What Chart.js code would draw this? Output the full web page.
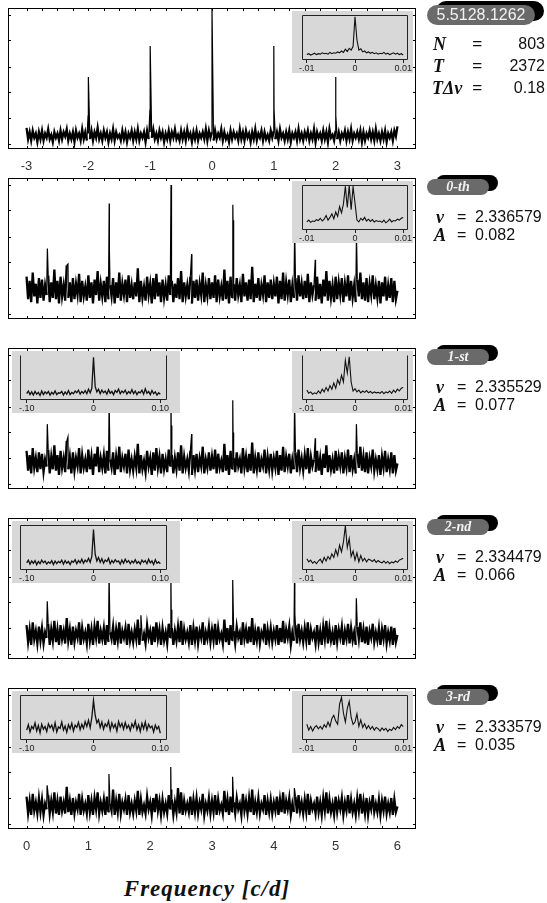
<!DOCTYPE html>
<html><head><meta charset="utf-8">
<script src="https://cdn.jsdelivr.net/npm/chart.js@4.4.0/dist/chart.umd.min.js"></script>
<style>
body{margin:0;background:#fff;width:547px;height:903px;position:relative;overflow:hidden;font-family:"Liberation Sans",Arial,sans-serif;color:#111;}
canvas{position:absolute;}
.t{position:absolute;white-space:nowrap;}
.sym{font-family:"Liberation Serif","DejaVu Serif",serif;font-weight:bold;font-style:italic;}
.pill{position:absolute;}
</style></head><body>
<script>
// ---------- tick labels ----------
const tickLabelsTop = [-3,-2,-1,0,1,2,3];
const tickLabelsBottom = [0,1,2,3,4,5,6];
const minorTicksTop = [-3,-2.75,-2.5,-2.25,-2,-1.75,-1.5,-1.25,-1,-0.75,-0.5,-0.25,0,0.25,0.5,0.75,1,1.25,1.5,1.75,2,2.25,2.5,2.75,3];
const minorTicksBottom = [0,0.25,0.5,0.75,1,1.25,1.5,1.75,2,2.25,2.5,2.75,3,3.25,3.5,3.75,4,4.25,4.5,4.75,5,5.25,5.5,5.75,6];
const yTickVals = [3.8,22,40.2,58.3,77,95];
const narrowTicks = [-0.01,0,0.01];
const narrowTickText = ['-.01','0','0.01'];
const wideTicks = [-0.1,0,0.1];
const wideTickText = ['-.10','0','0.10'];

// ---------- texts ----------
const starName = '5.5128.1262';
const nPoints = '803';
const tSpan = '2372';
const tDeltaNu = '0.18';
const panelNames = ['0-th','1-st','2-nd','3-rd'];
const nuValues = ['2.336579','2.335529','2.334479','2.333579'];
const ampValues = ['0.082','0.077','0.066','0.035'];

// ---------- spectral window (-3..3, step 0.025) ----------
const windowNoise = [
15,7,12,6,13,8,11,5,12,7, 13,6,11,8,14,7,10,5,12,8, 11,6,13,7,12,9,14,6,11,7, 12,5,13,8,11,6,14,7,12,6,
11,7,13,6,12,8,15,7,11,6, 13,8,12,5,11,7,14,6,12,8, 10,6,13,7,12,5,11,8,13,6, 12,7,14,6,11,8,12,5,13,7,
12,8,14,7,11,6,13,8,12,5, 11,7,13,6,12,8,14,7,10,6, 13,7,12,6,14,8,11,5,12,7, 13,6,11,8,12,7,14,6,13,8,
12,6,13,7,11,8,14,6,12,7, 10,5,13,7,12,8,11,6,14,7, 12,6,13,8,11,5,12,7,14,6, 11,8,13,6,12,7,10,6,13,8,
13,7,12,6,14,8,11,6,12,7, 13,5,11,8,12,6,14,7,11,6, 12,8,13,6,11,7,14,5,12,8, 11,6,13,7,12,5,14,8,10,6,
13,7,12,6,11,8,13,6,12,7, 14,6,11,8,12,7,13,5,12,6, 11,8,13,7,12,6,14,7,11,6, 12,7,13,5,11,8,12,6,13,9,
16];
const windowPeaks = [[-2.004,24],[-2,51],[-1.004,28],[-1,73],[0,100],[1,73],[1.004,28],[2,51],[2.004,24]];

// ---------- 0-th (0..6, step 0.025) ----------
const noise0th = [
30,14,27,12,33,16,25,11,29,15, 28,13,24,17,31,12,26,15,35,14, 27,11,30,16,24,13,38,15,26,12, 29,14,25,17,32,12,27,16,23,13,
31,15,26,11,28,17,34,13,25,16, 27,12,30,14,24,16,29,11,26,15, 33,13,25,17,28,12,31,15,24,14, 26,16,36,12,27,15,23,13,30,17,
25,11,29,14,32,16,26,12,28,15, 24,13,31,17,27,12,25,15,29,14, 34,12,26,16,24,14,30,11,27,15, 28,13,25,17,33,12,24,16,29,14,
26,15,31,12,28,16,23,13,35,14, 27,11,30,15,25,13,29,17,24,12, 32,16,26,13,28,14,37,12,25,15, 29,13,24,17,31,12,26,15,28,14,
25,16,30,11,27,14,33,13,26,17, 28,12,24,15,29,13,31,16,25,14, 27,15,32,12,26,17,24,13,30,14, 25,11,28,16,34,13,27,15,24,12,
30,14,26,17,29,12,25,16,31,13, 27,15,24,12,28,16,33,14,26,13, 29,12,25,17,31,14,24,15,27,11, 26,16,30,13,24,15,29,12,27,14,
20];
const peaks0th = [[0.337,50],[0.67,39],[1.337,82],[1.34,50],[2.337,95],[2.34,68],[2.67,46],[3.337,81],[3.34,70],[4.337,65],[4.67,42],[5.337,60]];

// ---------- 1-st ----------
const noise1st = [
27,13,24,11,29,15,22,12,26,14, 25,12,21,16,28,11,23,14,31,13, 24,10,27,15,22,12,34,14,23,11, 26,13,22,16,29,11,24,15,21,12,
28,14,23,10,25,16,30,12,22,15, 24,11,27,13,21,15,26,10,23,14, 30,12,22,16,25,11,28,14,21,13, 23,15,32,11,24,14,20,12,27,16,
22,10,26,13,29,15,23,11,25,14, 21,12,28,16,24,11,22,14,26,13, 31,11,23,15,21,13,27,10,24,14, 25,12,22,16,30,11,21,15,26,13,
23,14,28,11,25,15,20,12,32,13, 24,10,27,14,22,12,26,16,21,11, 29,15,23,12,25,13,33,11,22,14, 26,12,21,16,28,11,23,14,25,13,
22,15,27,10,24,13,30,12,23,16, 25,11,21,14,26,12,28,15,22,13, 24,14,29,11,23,16,21,12,27,13, 22,10,25,15,31,12,24,14,21,11,
27,13,23,16,26,11,22,15,28,12, 24,14,21,11,25,15,30,13,23,12, 26,11,22,16,28,13,21,14,24,10, 23,15,27,12,21,14,26,11,24,13,
18];
const peaks1st = [[0.336,46],[0.67,37],[1.336,62],[2.336,75],[2.34,45],[2.67,39],[3.336,63],[3.34,40],[4.336,62],[4.67,36],[5.336,46]];

// ---------- 2-nd ----------
const noise2nd = [
24,12,21,10,26,14,20,11,23,13, 22,11,19,15,25,10,21,13,27,12, 21,10,24,14,20,11,29,13,21,10, 23,12,20,15,26,10,22,14,19,11,
25,13,21,10,23,15,27,11,20,14, 22,10,24,12,19,14,23,10,21,13, 26,11,20,15,22,10,25,13,19,12, 21,14,28,10,22,13,18,11,24,15,
20,10,23,12,26,14,21,10,22,13, 19,11,25,15,22,10,20,13,23,12, 27,10,21,14,19,12,24,10,22,13, 23,11,20,15,26,10,19,14,23,12,
21,13,25,10,22,14,18,11,28,12, 22,10,24,13,20,11,23,15,19,10, 26,14,21,11,23,12,29,10,20,13, 23,11,19,15,25,10,21,13,22,12,
20,14,24,10,22,12,27,11,21,15, 23,10,19,13,24,11,25,14,20,12, 22,13,26,10,21,15,19,11,24,12, 20,10,23,14,27,11,22,13,19,10,
24,12,21,15,23,10,20,14,25,11, 22,13,19,10,23,14,26,12,21,11, 23,10,20,15,25,12,19,13,22,10, 21,14,24,11,19,13,23,10,22,12,
17];
const peaks2nd = [[0.335,41],[1.335,60],[1.85,31],[2.335,62],[2.34,35],[3.335,56],[4.335,60],[4.34,32],[5.335,43]];

// ---------- 3-rd ----------
const noise3rd = [
23,11,20,10,25,13,19,11,22,12, 21,10,18,14,24,11,20,12,26,11, 20,10,23,13,19,11,30,12,20,10, 22,11,19,14,25,10,21,13,18,11,
24,12,20,10,22,14,26,11,19,13, 21,10,23,12,18,13,28,10,20,12, 25,11,19,14,21,10,24,12,18,11, 20,13,27,10,21,12,17,11,23,14,
19,10,22,12,25,13,20,10,21,12, 18,11,24,14,21,10,19,12,29,11, 26,10,20,13,18,12,23,10,21,12, 22,11,19,14,25,10,18,13,22,11,
20,12,24,10,21,13,17,11,27,12, 21,10,23,12,19,11,22,14,18,10, 25,13,20,11,22,12,28,10,19,12, 22,11,18,14,24,10,20,12,21,11,
19,13,23,10,21,12,26,11,20,14, 22,10,18,12,23,11,24,13,19,11, 21,12,25,10,20,14,18,11,23,12, 19,10,22,13,26,11,21,12,18,10,
23,12,20,14,22,10,19,13,24,11, 21,12,18,10,22,13,25,11,20,11, 22,10,19,14,24,12,18,12,21,10, 20,13,23,11,18,12,22,10,21,12,
16];
const peaks3rd = [[0.333,31],[1.333,39],[2.333,44],[2.337,28],[3.333,37],[4.333,29]];

// ---------- narrow insets (-0.01..0.01, step 0.0004) ----------
const insetWindow = [12,14,11,13,15,12,14,13,16,14, 15,13,17,14,16,15,18,16,20,17, 24,19,26,22,30,96,45,22,25,18, 20,16,18,15,17,14,16,13,15,14, 17,13,15,12,14,16,13,15,12,14, 11];
const inset0th = [18,22,17,20,19,23,21,26,20,24, 32,22,28,36,25,40,30,52,38,58, 97,50,98,45,96,60,22,18,26,22, 28,20,24,19,23,18,21,19,20,17, 22,16,19,24,18,21,20,24,22,26,28];
const inset1st = [22,15,18,13,16,14,20,15,24,18, 28,20,32,24,38,26,45,35,55,40, 88,60,96,40,20,25,18,22,16,20, 17,21,16,19,15,18,16,17,15,19, 14,18,16,20,15,22,17,24,20,26,28];
const inset2nd = [25,18,22,15,19,14,20,24,16,28, 20,30,24,36,28,45,32,55,40,62, 98,50,70,30,42,22,38,18,32,20, 26,18,24,22,19,23,17,21,18,16, 20,15,19,14,18,16,20,17,22,24,26];
const inset3rd = [35,22,30,20,28,32,25,30,24,34, 28,40,30,48,55,42,35,80,95,60, 40,70,86,50,35,40,58,30,45,28, 36,25,32,24,30,22,28,25,20,27, 22,26,19,24,21,28,23,30,26,34,30];

// ---------- wide insets (-0.1..0.1, step 0.0025) ----------
const wide1st = [14,20,12,18,11,19,13,17,10,20, 12,18,14,19,11,17,13,20,12,16, 15,19,11,18,13,21,12,17,14,20, 16,22,13,19,15,21,14,24,16,26,
95,30,18,24, 14,22,16,20,13,23,15,19,12,21, 17,24,14,20,16,22,13,19,15,23, 14,20,12,18,16,22,13,25,15,19, 12,21,14,18,11,16,13];
const wide2nd = [16,22,13,20,15,21,12,19,14,22, 16,20,13,18,15,21,12,20,14,19, 16,22,13,21,15,19,12,20,17,23, 14,21,16,24,15,22,18,26,17,30,
90,35,20,28, 17,25,15,22,19,26,14,21,16,23, 18,20,13,22,15,24,17,21,14,20, 16,23,15,19,13,22,17,21,14,24, 16,20,12,23,15,18,14];
const wide3rd = [22,34,18,30,25,38,20,32,16,35, 24,30,19,36,27,33,21,38,18,29, 26,40,22,31,17,34,25,37,20,33, 28,39,23,35,26,41,30,44,27,50,
88,55,38,45, 28,40,24,36,30,42,22,38,27,35, 20,41,29,37,24,39,26,33,21,36, 28,42,23,34,19,37,25,40,22,35, 27,31,18,33,24,30,15];

// ---------- builders ----------
function series(noise, x0, step, peaks){
  const pts = noise.map((v,i)=>({x:x0+i*step, y:v}));
  (peaks||[]).forEach(p=>pts.push({x:p[0], y:p[1], pk:true}));
  pts.sort((a,b)=>a.x-b.x);
  return pts;
}
const SANS = '"Liberation Sans", Arial, sans-serif';

const frameTicks = {
  id:'frameTicks',
  afterDraw(chart, args, o){
    const {ctx, chartArea:a} = chart; const x = chart.scales.x, y = chart.scales.y;
    ctx.save(); ctx.strokeStyle='#000'; ctx.lineWidth=1;
    ctx.strokeRect(Math.round(a.left)+0.5, Math.round(a.top)+0.5, Math.round(a.right-a.left)-1, Math.round(a.bottom-a.top)-1);
    ctx.beginPath();
    o.xTicks.forEach(v=>{const px=Math.round(x.getPixelForValue(v))+0.5; ctx.moveTo(px,a.top); ctx.lineTo(px,a.top+o.len); ctx.moveTo(px,a.bottom); ctx.lineTo(px,a.bottom-o.len);});
    o.yTicks.forEach(v=>{const py=Math.round(y.getPixelForValue(v))+0.5; ctx.moveTo(a.left,py); ctx.lineTo(a.left+o.len,py); ctx.moveTo(a.right,py); ctx.lineTo(a.right-o.len,py);});
    ctx.stroke(); ctx.restore();
  }
};
const insetFrame = {
  id:'insetFrame',
  afterDraw(chart, args, o){
    const {ctx, chartArea:a} = chart;
    const l=Math.round(a.left)+0.5, r=Math.round(a.right)-0.5, t=Math.round(a.top)+0.5, b=Math.round(a.bottom)-0.5;
    ctx.save(); ctx.strokeStyle='#222'; ctx.lineWidth=1; ctx.beginPath();
    if(o.top){ctx.moveTo(l,t); ctx.lineTo(r,t);}
    ctx.moveTo(l,t); ctx.lineTo(l,b); ctx.lineTo(r,b); ctx.lineTo(r,t);
    ctx.stroke(); ctx.restore();
  }
};

function makeMain(i, pts, xmin, xmax, labels, minor){
  const T = 8 + 170*i;
  const labelled = !!labels;
  const cv = document.createElement('canvas');
  cv.width = 430; cv.height = 4 + 141 + (labelled ? 30 : 4);
  cv.style.left = '0px'; cv.style.top = (T-4)+'px';
  document.body.appendChild(cv);
  const isPk = ctx => (pts[ctx.p0DataIndex] && pts[ctx.p0DataIndex].pk) || (pts[ctx.p1DataIndex] && pts[ctx.p1DataIndex].pk);
  new Chart(cv, {
    type:'line',
    data:{datasets:[{data:pts, borderColor:'#000', borderWidth:2.3, pointRadius:0, tension:0, fill:false, borderJoinStyle:'miter',
      segment:{borderWidth: ctx => isPk(ctx) ? 1.2 : 2.3}}]},
    options:{
      animation:false, responsive:false, events:[],
      layout:{padding:{left:8, right:14, top:4, bottom: labelled?0:4}},
      scales:{
        x:{type:'linear', min:xmin, max:xmax, display:labelled,
           grid:{display:false, drawTicks:false}, border:{display:false},
           afterBuildTicks: s=>{ s.ticks = (labels||[]).map(v=>({value:v})); },
           afterFit: s=>{ s.height = labelled ? 30 : 0; },
           ticks:{font:{family:SANS, size:13}, color:'#333', padding:10, maxRotation:0, autoSkip:false, callback:v=>String(v)}},
        y:{min:0, max:100, display:false}
      },
      plugins:{legend:{display:false}, tooltip:{enabled:false}, frameTicks:{xTicks:minor, yTicks:yTickVals, len:3}}
    },
    plugins:[frameTicks]
  });
}

function makeInset(left, top, w, h, pl, pr, pts, xmin, xmax, tv, tt, withTop, lw){
  const cv = document.createElement('canvas');
  cv.width = w; cv.height = h;
  cv.style.left = left+'px'; cv.style.top = top+'px'; cv.style.background = '#d8d8d8';
  document.body.appendChild(cv);
  new Chart(cv, {
    type:'line',
    data:{datasets:[{data:pts, borderColor:'#111', borderWidth:lw, pointRadius:0, tension:0, fill:false}]},
    options:{
      animation:false, responsive:false, events:[],
      layout:{padding:{left:pl, right:pr, top:4, bottom:0}},
      scales:{
        x:{type:'linear', min:xmin, max:xmax,
           grid:{display:true, drawOnChartArea:false, drawTicks:true, tickLength:3, color:'#222'}, border:{display:false},
           afterBuildTicks: s=>{ s.ticks = tv.map(v=>({value:v})); },
           afterFit: s=>{ s.height = 13; },
           ticks:{font:{family:SANS, size:9}, color:'#222', padding:0, maxRotation:0, autoSkip:false, callback:(v,idx)=>tt[idx]}},
        y:{min:0, max:100, display:false}
      },
      plugins:{legend:{display:false}, tooltip:{enabled:false}, insetFrame:{top:withTop}}
    },
    plugins:[insetFrame]
  });
}

function text(str, x, cy, size, cls, align, color){
  const d = document.createElement('div');
  d.className = 't' + (cls ? ' '+cls : '');
  d.textContent = str;
  d.style.fontSize = size+'px';
  d.style.lineHeight = size+'px';
  d.style.top = (cy - size/2)+'px';
  if(align === 'right'){ d.style.right = (547 - x)+'px'; }
  else if(align === 'center'){ d.style.left = (x-150)+'px'; d.style.width='300px'; d.style.textAlign='center'; }
  else { d.style.left = x+'px'; }
  if(color) d.style.color = color;
  document.body.appendChild(d);
  return d;
}
function badge(str, x, y, w, h, size, cls){
  const sh = document.createElement('div');
  sh.className='pill'; sh.style.cssText += `left:${x+9}px;top:${y-4}px;width:${w}px;height:${h}px;border-radius:${h/2}px;background:#000;`;
  document.body.appendChild(sh);
  const p = document.createElement('div');
  p.className='pill' + (cls?' '+cls:''); p.textContent = str;
  p.style.cssText += `left:${x}px;top:${y}px;width:${w}px;height:${h}px;border-radius:${h/2}px;background:#6a6a6a;color:#f2f2f2;font-size:${size}px;line-height:${h}px;text-align:center;`;
  document.body.appendChild(p);
}

// ---------- main panels ----------
makeMain(0, series(windowNoise, -3, 0.025, windowPeaks), -3.3, 3.3, tickLabelsTop, minorTicksTop);
makeMain(1, series(noise0th, 0, 0.025, peaks0th), -0.3, 6.3, null, minorTicksBottom);
makeMain(2, series(noise1st, 0, 0.025, peaks1st), -0.3, 6.3, null, minorTicksBottom);
makeMain(3, series(noise2nd, 0, 0.025, peaks2nd), -0.3, 6.3, null, minorTicksBottom);
makeMain(4, series(noise3rd, 0, 0.025, peaks3rd), -0.3, 6.3, tickLabelsBottom, minorTicksBottom);

// ---------- insets ----------
const narrowSets = [insetWindow, inset0th, inset1st, inset2nd, inset3rd];
narrowSets.forEach((arr, i)=>{
  const T = 8 + 170*i;
  makeInset(292, T+3, 121, 62, 10, 5, series(arr, -0.01, 0.0004), -0.011, 0.011, narrowTicks, narrowTickText, i !== 2, 1.1);
});
const wideSets = [wide1st, wide2nd, wide3rd];
wideSets.forEach((arr, k)=>{
  const i = k + 2, T = 8 + 170*i;
  makeInset(12, T+3, 168, 62, 8, 13, series(arr, -0.1, 0.0025), -0.11, 0.11, wideTicks, wideTickText, i !== 2, 1.3);
});

// ---------- side texts ----------
badge(starName, 427, 5, 108, 20, 16, '');
text('N', 433, 44, 18, 'sym'); text('=', 472, 44, 18, 'sym'); text(nPoints, 545, 44, 16, '', 'right');
text('T', 433, 66, 18, 'sym'); text('=', 472, 66, 18, 'sym'); text(tSpan, 545, 66, 16, '', 'right');
text('TΔν', 432, 88, 18, 'sym'); text('=', 472, 88, 18, 'sym'); text(tDeltaNu, 545, 88, 16, '', 'right');
panelNames.forEach((nm, k)=>{
  const T = 8 + 170*(k+1);
  badge(nm, 427, T+1, 62, 16, 14, 'sym');
  text('ν', 436, T+39, 18, 'sym'); text('=', 457, T+39, 16, ''); text(nuValues[k], 475, T+39, 16, '');
  text('A', 434, T+57, 18, 'sym'); text('=', 457, T+57, 16, ''); text(ampValues[k], 475, T+57, 16, '');
});
const ttl = text('Frequency [c/d]', 207, 888, 23, 'sym', 'center');
ttl.style.letterSpacing = '1px';
</script>
</body></html>
